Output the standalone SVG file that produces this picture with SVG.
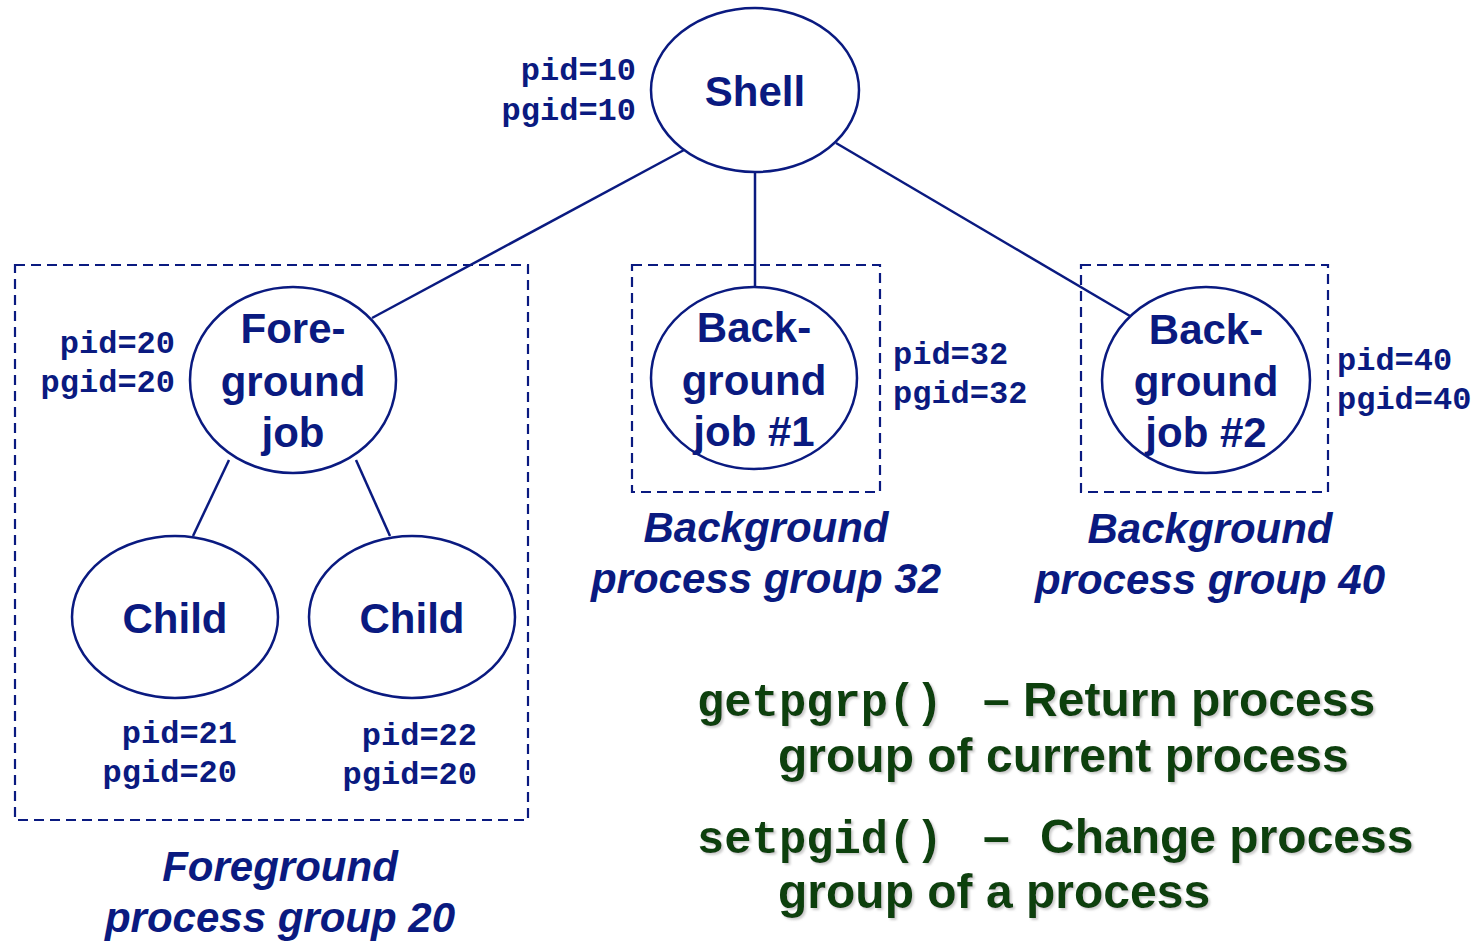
<svg xmlns="http://www.w3.org/2000/svg" width="1476" height="942" viewBox="0 0 1476 942">
<defs>
<style>
.node{fill:#fff;stroke:#0a1a80;stroke-width:2.5}
.box{fill:none;stroke:#0a1a80;stroke-width:2.2;stroke-dasharray:10 6}
.edge{stroke:#0a1a80;stroke-width:2.5;fill:none}
.lbl{font-family:"Liberation Sans",Arial,sans-serif;font-weight:bold;font-size:42px;fill:#0a1a80;text-anchor:middle}
.cap{font-family:"Liberation Sans",Arial,sans-serif;font-weight:bold;font-style:italic;font-size:42px;fill:#0a1a80;text-anchor:middle}
.id{font-family:"Liberation Mono","Courier New",monospace;font-weight:bold;font-size:32px;fill:#0a1a80}
.r{text-anchor:end}
.gm{font-family:"Liberation Mono","Courier New",monospace;font-weight:bold;font-size:45.5px;fill:#0b3f0b}
.gs{font-family:"Liberation Sans",Arial,sans-serif;font-weight:bold;font-size:48px;fill:#0b3f0b}
</style>
<filter id="sh" x="-5%" y="-20%" width="110%" height="140%">
<feDropShadow dx="2" dy="2" stdDeviation="1" flood-color="#999" flood-opacity="0.5"/>
</filter>
</defs>
<rect width="1476" height="942" fill="#fff"/>
<g id="groups">
<rect id="fg-group" class="box" x="15" y="265" width="513" height="555"/>
<rect id="bg1-group" class="box" x="632" y="265" width="248" height="227"/>
<rect id="bg2-group" class="box" x="1081" y="265" width="247" height="227"/>
</g>
<g id="connectors">
<line class="edge" x1="684" y1="150" x2="372" y2="318"/>
<line class="edge" x1="755" y1="172" x2="755" y2="288"/>
<line class="edge" x1="836" y1="143" x2="1130" y2="316"/>
<line class="edge" x1="229" y1="460" x2="193" y2="536"/>
<line class="edge" x1="356" y1="460" x2="390" y2="536"/>
</g>
<g id="shell">
<ellipse class="node" cx="755" cy="90" rx="104" ry="82"/>
<text class="lbl" x="755" y="106">Shell</text>
<text class="id r" x="636" y="80">pid=10</text>
<text class="id r" x="636" y="120">pgid=10</text>
</g>
<g id="fg-job">
<ellipse class="node" cx="293" cy="380" rx="103" ry="93"/>
<text class="lbl" x="293" y="343">Fore-</text>
<text class="lbl" x="293" y="396">ground</text>
<text class="lbl" x="293" y="447">job</text>
<text class="id r" x="175" y="353">pid=20</text>
<text class="id r" x="175" y="392">pgid=20</text>
</g>
<g id="child1">
<ellipse class="node" cx="175" cy="617" rx="103" ry="81"/>
<text class="lbl" x="175" y="633">Child</text>
<text class="id r" x="237" y="743">pid=21</text>
<text class="id r" x="237" y="782">pgid=20</text>
</g>
<g id="child2">
<ellipse class="node" cx="412" cy="617" rx="103" ry="81"/>
<text class="lbl" x="412" y="633">Child</text>
<text class="id r" x="477" y="745">pid=22</text>
<text class="id r" x="477" y="784">pgid=20</text>
</g>
<g id="bg-job1">
<ellipse class="node" cx="754" cy="378" rx="103" ry="91"/>
<text class="lbl" x="754" y="342">Back-</text>
<text class="lbl" x="754" y="395">ground</text>
<text class="lbl" x="754" y="446">job #1</text>
<text class="id" x="893" y="364">pid=32</text>
<text class="id" x="893" y="403">pgid=32</text>
</g>
<g id="bg-job2">
<ellipse class="node" cx="1206" cy="380" rx="104" ry="93"/>
<text class="lbl" x="1206" y="344">Back-</text>
<text class="lbl" x="1206" y="396">ground</text>
<text class="lbl" x="1206" y="447">job #2</text>
<text class="id" x="1337" y="370">pid=40</text>
<text class="id" x="1337" y="409">pgid=40</text>
</g>
<g id="captions">
<text class="cap" x="766" y="542">Background</text>
<text class="cap" x="766" y="593">process group 32</text>
<text class="cap" x="1210" y="543">Background</text>
<text class="cap" x="1210" y="594">process group 40</text>
<text class="cap" x="280" y="881">Foreground</text>
<text class="cap" x="280" y="932">process group 20</text>
</g>
<g id="notes" filter="url(#sh)">
<text class="gm" x="697" y="716">getpgrp()</text>
<text class="gs" x="983" y="716">– Return process</text>
<text class="gs" x="778" y="772">group of current process</text>
<text class="gm" x="697" y="853">setpgid()</text>
<text class="gs" x="983" y="853">–</text>
<text class="gs" x="1040" y="853">Change process</text>
<text class="gs" x="778" y="908">group of a process</text>
</g>
</svg>
